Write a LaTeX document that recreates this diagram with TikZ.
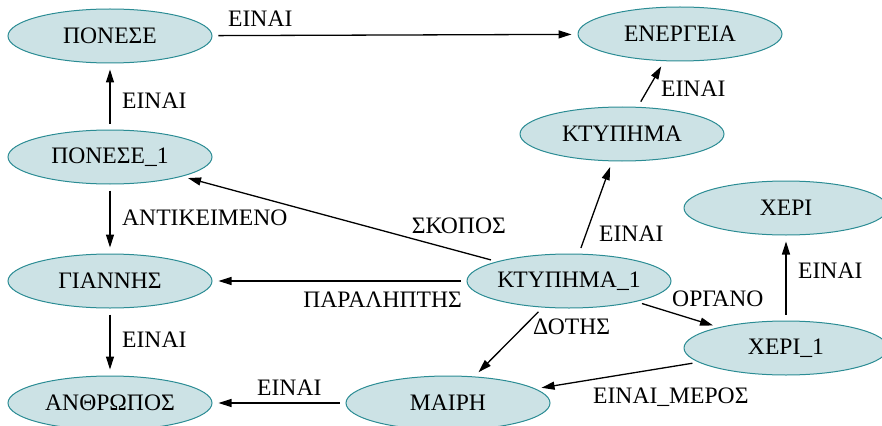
\documentclass[tikz,border=0pt]{standalone}
\usepackage{fontspec}
\setmainfont{Liberation Serif}
\usetikzlibrary{arrows.meta,shapes.geometric}
\definecolor{concfill}{HTML}{CCE2E5}
\definecolor{concline}{HTML}{2B8C94}
\tikzset{
  concept/.style={ellipse, draw=concline, fill=concfill, line width=1pt,
    minimum width=204pt, minimum height=54pt, inner sep=0pt,
    font=\fontsize{23.6}{28}\selectfont},
  rel/.style={draw, line width=1.3pt, shorten <=6pt, shorten >=6pt,
    -{Triangle[length=13pt,width=8pt]}},
  tag/.style={inner sep=0pt, font=\fontsize{23.6}{28}\selectfont}
}
\begin{document}
\begin{tikzpicture}[x=1pt, y=-1pt]
  \useasboundingbox (0,0) rectangle (882,425);
  % concepts
  \node[concept] (ponese)   at (110,36)  {ΠΟΝΕΣΕ};
  \node[concept] (ponese1)  at (110,157) {ΠΟΝΕΣΕ\_1};
  \node[concept] (giannis)  at (110,281) {ΓΙΑΝΝΗΣ};
  \node[concept] (anthr)    at (110,403) {ΑΝΘΡΩΠΟΣ};
  \node[concept] (energeia) at (680,34)  {ΕΝΕΡΓΕΙΑ};
  \node[concept] (ktyp)     at (622,134) {ΚΤΥΠΗΜΑ};
  \node[concept] (ktyp1)    at (569,281) {ΚΤΥΠΗΜΑ\_1};
  \node[concept] (xeri)     at (786,208) {ΧΕΡΙ};
  \node[concept] (xeri1)    at (786,348) {ΧΕΡΙ\_1};
  \node[concept] (mairi)    at (448,403) {ΜΑΙΡΗ};
  % relations
  \draw[rel] (ponese) -- (energeia);
  \draw[rel] (ponese1) -- (ponese);
  \draw[rel] (ponese1) -- (giannis);
  \draw[rel] (giannis) -- (anthr);
  \draw[rel] (mairi) -- (anthr);
  \draw[rel] (ktyp1) -- (giannis);
  \draw[rel] (ktyp1) -- (ponese1);
  \draw[rel] (ktyp1) -- (ktyp);
  \draw[rel] (ktyp) -- (energeia);
  \draw[rel] (ktyp1) -- (xeri1);
  \draw[rel] (ktyp1) -- (mairi);
  \draw[rel] (xeri1) -- (xeri);
  \draw[rel] (xeri1) -- (mairi);
  % relation labels
  \node[tag, anchor=base west] (l1)  at (228,27)  {ΕΙΝΑΙ};
  \node[tag, anchor=base west] (l2)  at (122,108) {ΕΙΝΑΙ};
  \node[tag, anchor=base west] (l3)  at (122,225) {ΑΝΤΙΚΕΙΜΕΝΟ};
  \node[tag, anchor=base west] (l4)  at (122,347) {ΕΙΝΑΙ};
  \node[tag, anchor=base west] (l5)  at (257,395) {ΕΙΝΑΙ};
  \node[tag, anchor=base east] (l6)  at (462,307) {ΠΑΡΑΛΗΠΤΗΣ};
  \node[tag, anchor=base east] (l7)  at (506,233) {ΣΚΟΠΟΣ};
  \node[tag, anchor=base west] (l8)  at (599,241) {ΕΙΝΑΙ};
  \node[tag, anchor=base west] (l9)  at (661,97)  {ΕΙΝΑΙ};
  \node[tag, anchor=base west] (l10) at (672,306) {ΟΡΓΑΝΟ};
  \node[tag, anchor=base west] (l11) at (533,334) {ΔΟΤΗΣ};
  \node[tag, anchor=base west] (l12) at (798,278) {ΕΙΝΑΙ};
  \node[tag, anchor=base west] (l13) at (593,403) {ΕΙΝΑΙ\_ΜΕΡΟΣ};
\end{tikzpicture}
\end{document}
